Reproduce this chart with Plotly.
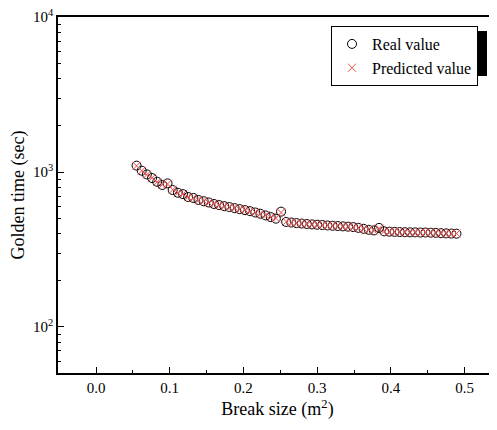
import plotly.graph_objects as go

# break size (m^2)
break_size = [0.055, 0.062, 0.069, 0.076, 0.083, 0.090, 0.097, 0.104, 0.111, 0.118,
              0.125, 0.132, 0.139, 0.146, 0.153, 0.160, 0.167, 0.174, 0.181, 0.188,
              0.195, 0.202, 0.209, 0.216, 0.223, 0.230, 0.237, 0.244, 0.251, 0.258,
              0.265, 0.272, 0.279, 0.286, 0.293, 0.300, 0.307, 0.314, 0.321, 0.328,
              0.335, 0.342, 0.349, 0.356, 0.363, 0.370, 0.377, 0.384, 0.391, 0.398,
              0.405, 0.412, 0.419, 0.426, 0.433, 0.440, 0.447, 0.454, 0.461, 0.468,
              0.475, 0.482, 0.489]

# golden time (sec)
real_value = [1100, 1020, 965, 915, 865, 825, 845, 765, 735, 720,
              690, 680, 660, 648, 636, 622, 612, 602, 594, 585,
              576, 568, 559, 548, 538, 525, 512, 500, 555, 476,
              472, 468, 465, 462, 459, 457, 455, 452, 450, 448,
              446, 444, 441, 436, 430, 424, 420, 436, 414, 412,
              411, 410, 409, 408, 408, 407, 407, 406, 405, 403,
              402, 401, 400]

predicted_value = [1095, 1018, 962, 918, 862, 828, 838, 768, 733, 722,
                   688, 682, 658, 650, 634, 624, 610, 604, 592, 587,
                   574, 570, 557, 550, 536, 527, 510, 503, 548, 478,
                   470, 469, 463, 463, 458, 458, 454, 453, 449, 449,
                   445, 445, 440, 437, 429, 425, 419, 432, 415, 411,
                   412, 409, 410, 407, 409, 406, 408, 405, 406, 402,
                   403, 400, 401]

font = "Liberation Serif, Times New Roman, serif"

# page has an 8px body margin, so the figure is laid out 8px in
W, H = 489, 414
L, T, B = 50, 9, 414 - 365
PW, PH = W - L, H - T - B


def px_x(p):
    return (p - 8 - L) / PW


def px_y(p):
    return (H - B - (p - 8)) / PH


fig = go.Figure()
fig.add_trace(go.Scatter(x=break_size, y=real_value, mode="markers", name="Real value",
                         marker=dict(symbol="circle-open", size=9, color="black",
                                     line=dict(width=1, color="black"))))
fig.add_trace(go.Scatter(x=break_size, y=predicted_value, mode="markers", name="Predicted value",
                         marker=dict(symbol="x-thin-open", size=8, color="#f04a4a",
                                     line=dict(width=1, color="#f04a4a"))))

# legend drop shadow
fig.add_shape(type="rect", xref="paper", yref="paper",
              x0=px_x(337), x1=px_x(487), y0=px_y(76), y1=px_y(31),
              fillcolor="black", line=dict(width=0), layer="above")

minor_y = [v * 10 ** e for e in (1, 2, 3) for v in range(2, 10)]

fig.update_layout(
    width=W, height=H,
    margin=dict(l=L, r=0, t=T, b=B, autoexpand=False),
    plot_bgcolor="white", paper_bgcolor="white",
    font=dict(family=font, size=15, color="black"),
    showlegend=True,
    legend=dict(x=px_x(331), y=px_y(26), xanchor="left", yanchor="top",
                bgcolor="white", bordercolor="black", borderwidth=1,
                font=dict(family=font, size=16), itemwidth=30, tracegroupgap=0),
    xaxis=dict(range=[-0.0516, 0.544], tickvals=[0.0, 0.1, 0.2, 0.3, 0.4, 0.5],
               ticktext=["0.0", "0.1", "0.2", "0.3", "0.4", "0.5"],
               ticks="inside", ticklen=6, tickwidth=1, tickcolor="black",
               minor=dict(tickvals=[0.05, 0.15, 0.25, 0.35, 0.45], ticks="inside",
                          ticklen=3, tickcolor="black"),
               showline=True, linecolor="black", linewidth=1.5, mirror=True,
               showgrid=False, zeroline=False, automargin=False,
               tickfont=dict(family=font, size=15),
               title=dict(text="Break size (m<sup>2</sup>)", font=dict(family=font, size=18),
                          standoff=8)),
    yaxis=dict(type="log", range=[1.703, 4.0005], tickvals=[100, 1000, 10000],
               ticktext=["10<sup>2</sup>", "10<sup>3</sup>", "10<sup>4</sup>"],
               ticklabeloverflow="allow",
               ticks="inside", ticklen=6, tickwidth=1, tickcolor="black",
               minor=dict(tickvals=minor_y, ticks="inside", ticklen=3, tickcolor="black"),
               showline=True, linecolor="black", linewidth=1.5,
               showgrid=False, zeroline=False, automargin=False,
               tickfont=dict(family=font, size=15),
               title=dict(text="Golden time (sec)", font=dict(family=font, size=18),
                          standoff=6)),
)

fig.write_html("out.html")
